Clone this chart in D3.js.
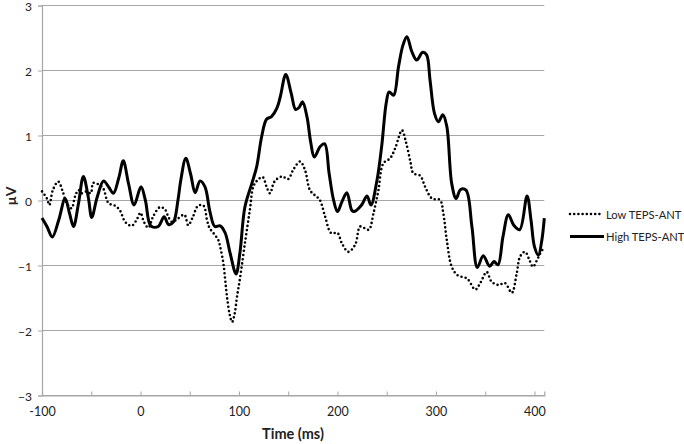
<!DOCTYPE html>
<html>
<head>
<meta charset="utf-8">
<script src="https://cdn.jsdelivr.net/npm/d3@7"></script>
<style>
  body { margin: 0; background: #fff; }
  svg { display: block; font-family: Lato, "Open Sans", sans-serif; }
</style>
</head>
<body>
<svg id="chart" width="684" height="444"></svg>
<script>
// Time points (ms) and amplitudes (µV)
const lowTime = [-100, -95, -92.5, -89, -83.5, -79, -75, -70, -66.5, -63, -59.5, -54.5, -50.5, -48, -43, -38, -32.5, -26, -21, -15.5, -9, -4, 0, 3.5, 8, 13, 20, 25, 28.5, 32, 37, 44.5, 48.5, 53, 58.5, 64, 67.5, 70, 74, 79, 81, 84, 86, 88, 90.5, 93, 95.5, 98, 101, 106, 111, 114.5, 118, 124, 128, 131.5, 136, 143.5, 150, 155, 162, 167, 172, 177, 182, 187.5, 193.5, 200, 204.5, 211, 218, 223, 228, 232, 236.5, 241.5, 246.5, 253.5, 258.5, 265.5, 269.5, 274, 277, 284, 289, 296, 304, 307.5, 311, 316, 322, 331.5, 340, 345, 351.5, 356.5, 363.5, 370, 377, 382, 385.5, 390.5, 395, 398.5, 402.5, 406, 408];
const lowValue = [0.14, 0.03, -0.07, 0.16, 0.29, 0.14, -0.04, -0.12, 0.06, 0.16, 0.11, 0.14, 0.11, 0.27, 0.25, 0.19, -0.04, -0.08, -0.15, -0.33, -0.39, -0.30, -0.19, -0.33, -0.42, -0.24, -0.10, -0.14, -0.26, -0.33, -0.29, -0.22, -0.38, -0.26, -0.08, -0.08, -0.30, -0.42, -0.50, -0.61, -0.72, -0.95, -1.22, -1.50, -1.75, -1.87, -1.75, -1.48, -1.20, -0.66, -0.15, 0.21, 0.30, 0.36, 0.21, 0.11, 0.29, 0.37, 0.33, 0.47, 0.60, 0.47, 0.16, 0.08, 0.01, -0.25, -0.50, -0.50, -0.66, -0.79, -0.68, -0.40, -0.43, -0.45, -0.20, 0.15, 0.57, 0.65, 0.80, 1.08, 0.90, 0.60, 0.42, 0.38, 0.21, 0.03, 0.01, -0.20, -0.61, -1.02, -1.15, -1.20, -1.37, -1.27, -1.10, -1.25, -1.30, -1.27, -1.42, -1.12, -0.86, -0.79, -0.92, -1.02, -0.92, -0.81, -0.76];

const highTime = [-100, -95, -89.5, -83, -76.5, -72, -68, -63, -58, -53, -49.5, -44, -37.5, -32, -27.5, -22, -17.5, -12, -6.5, 0.5, 5, 10.5, 18, 24, 28.5, 33.5, 38, 41, 46, 51, 55.5, 60.5, 65.5, 70.5, 75.5, 81, 86, 91, 97, 101, 106, 113, 118, 123, 128, 133, 138.5, 142, 147.5, 153, 157.5, 161, 164.5, 169, 173, 176.5, 182.5, 187, 191.5, 196, 200, 204.5, 209.5, 214.5, 217, 224.5, 230, 234, 240, 245, 249.5, 252.5, 257, 262, 266.5, 270.5, 275.5, 280.5, 286.5, 290.5, 294, 298.5, 302.5, 307, 311, 316, 320.5, 325, 330.5, 336.5, 342, 348, 354.5, 359, 363, 368, 373.5, 379, 385, 392.5, 396.5, 400, 404, 407.5, 410];
const highValue = [-0.27, -0.40, -0.56, -0.30, 0.03, -0.20, -0.40, -0.05, 0.37, 0.05, -0.26, 0.05, 0.30, 0.20, 0.11, 0.35, 0.61, 0.25, -0.07, 0.21, 0.00, -0.39, -0.40, -0.25, -0.37, -0.33, 0.00, 0.32, 0.65, 0.40, 0.12, 0.30, 0.21, -0.17, -0.40, -0.39, -0.50, -0.81, -1.13, -0.80, -0.10, 0.26, 0.52, 0.98, 1.25, 1.29, 1.42, 1.60, 1.94, 1.65, 1.40, 1.43, 1.52, 1.29, 0.88, 0.67, 0.83, 0.87, 0.42, 0.01, -0.17, -0.02, 0.12, -0.15, -0.17, -0.07, 0.07, -0.07, 0.30, 0.85, 1.50, 1.67, 1.62, 2.06, 2.39, 2.52, 2.29, 2.16, 2.28, 2.24, 1.85, 1.34, 1.21, 1.32, 1.14, 0.26, 0.03, 0.17, 0.16, -0.40, -1.03, -0.85, -1.01, -0.94, -0.99, -0.56, -0.22, -0.38, -0.45, 0.07, -0.30, -0.71, -0.84, -0.61, -0.27];

const xTicks = [-100, 0, 100, 200, 300, 400];
const xMinorTicks = [-50, 50, 150, 250, 350];
const yTicks = [-3, -2, -1, 0, 1, 2, 3];
const seriesNames = ['Low TEPS-ANT', 'High TEPS-ANT'];

const svg = d3.select('#chart');
const grey = '#a6a6a6';

const x = d3.scaleLinear().domain([-100, 410]).range([42, 544.3]);
const y = d3.scaleLinear().domain([-3, 3]).range([395.5, 5.5]);

// horizontal gridlines
svg.append('g')
  .selectAll('line')
  .data(yTicks)
  .join('line')
  .attr('x1', x(-100)).attr('x2', x(410))
  .attr('y1', d => y(d)).attr('y2', d => y(d))
  .attr('stroke', grey).attr('stroke-width', 1.2);

// y axis
const yAxis = svg.append('g')
  .attr('transform', `translate(${x(-100)},0)`)
  .call(d3.axisLeft(y).tickValues(yTicks).tickSize(4).tickFormat(d3.format('d')));
yAxis.select('.domain').attr('stroke', grey).attr('stroke-width', 1.2);
yAxis.selectAll('.tick line').attr('stroke', grey);
yAxis.selectAll('.tick text')
  .attr('x', -10)
  .attr('dy', '0.4em')
  .attr('font-size', 12)
  .attr('font-family', 'Lato, sans-serif')
  .attr('fill', '#222');

// x axis with ticks pointing up
const xAxis = svg.append('g')
  .attr('transform', `translate(0,${y(-3)})`)
  .call(d3.axisBottom(x).tickValues(xTicks.concat(xMinorTicks)).tickSize(-4).tickFormat(d => xTicks.includes(d) ? d : ''));
xAxis.select('.domain').attr('stroke', grey).attr('stroke-width', 1.2);
xAxis.selectAll('.tick line').attr('stroke', grey);
xAxis.selectAll('.tick text')
  .attr('y', 12)
  .attr('font-size', 12.5)
  .attr('font-family', 'Lato, sans-serif')
  .attr('fill', '#222');

// lines
const line = d3.line()
  .x(d => x(d[0]))
  .y(d => y(d[1]))
  .curve(d3.curveCatmullRom.alpha(0.5));

const lowData = d3.zip(lowTime, lowValue);
const highData = d3.zip(highTime, highValue);

svg.append('path')
  .datum(lowData)
  .attr('d', line)
  .attr('fill', 'none')
  .attr('stroke', '#000')
  .attr('stroke-width', 2.6)
  .attr('stroke-linecap', 'round')
  .attr('stroke-dasharray', '0 4.2');

svg.append('path')
  .datum(highData)
  .attr('d', line)
  .attr('fill', 'none')
  .attr('stroke', '#000')
  .attr('stroke-width', 3)
  .attr('stroke-linejoin', 'round');

// axis titles
svg.append('text')
  .attr('transform', 'translate(16,196) rotate(-90)')
  .attr('text-anchor', 'middle')
  .attr('font-size', 14)
  .attr('font-weight', 'bold')
  .attr('fill', '#222')
  .text('µV');

svg.append('text')
  .attr('x', 293)
  .attr('y', 439)
  .attr('text-anchor', 'middle')
  .attr('font-size', 14.5)
  .attr('font-weight', 'bold')
  .attr('fill', '#222')
  .text('Time (ms)');

// legend
const legend = svg.append('g');
seriesNames.forEach((name, i) => {
  const ly = 214 + i * 22.5;
  legend.append('line')
    .attr('x1', 570).attr('x2', i === 0 ? 601 : 604)
    .attr('y1', ly).attr('y2', ly)
    .attr('stroke', '#000')
    .attr('stroke-width', i === 0 ? 2.6 : 3)
    .attr('stroke-linecap', i === 0 ? 'round' : 'butt')
    .attr('stroke-dasharray', i === 0 ? '0 4.2' : null);
  legend.append('text')
    .attr('x', 606)
    .attr('y', ly + 4.5)
    .attr('font-size', 11.2)
    .attr('fill', '#222')
    .text(name);
});
</script>
</body>
</html>
